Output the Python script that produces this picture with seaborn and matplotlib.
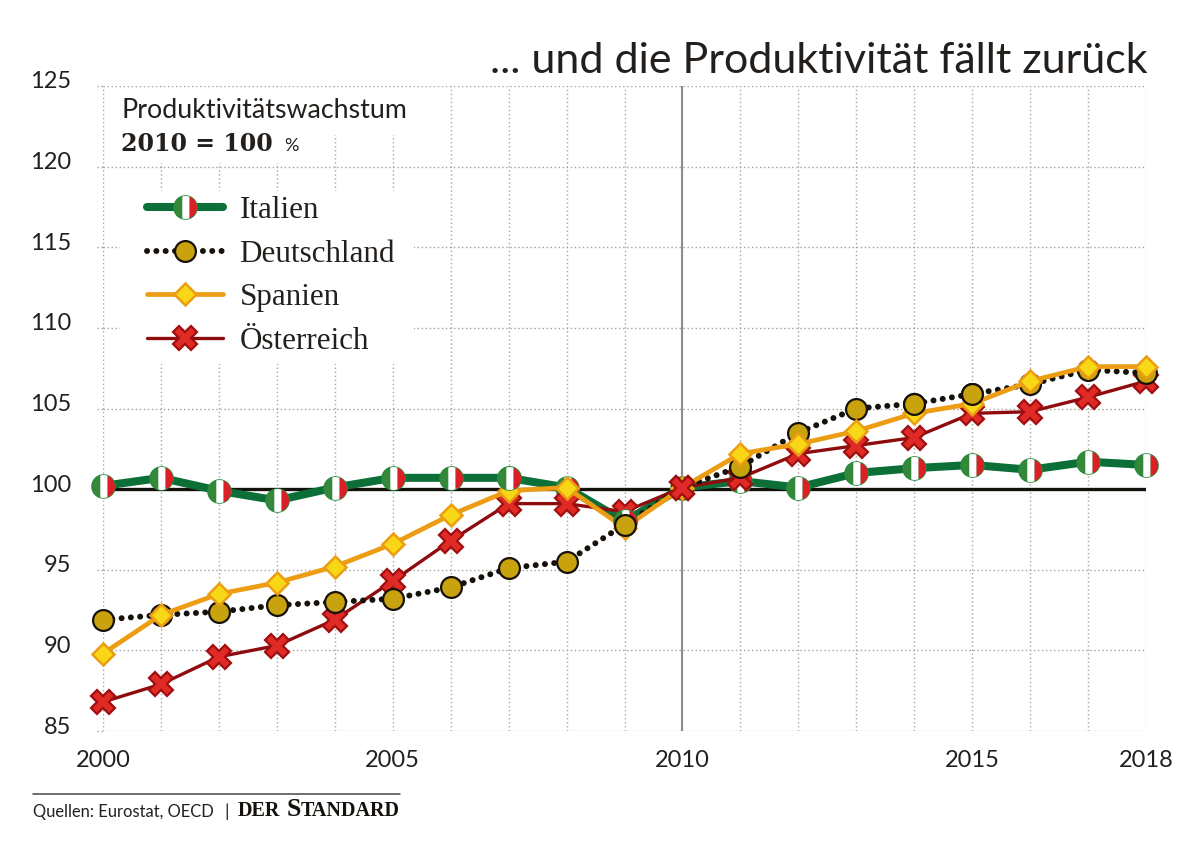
import matplotlib
matplotlib.use('Agg')
import matplotlib.pyplot as plt
from matplotlib.legend_handler import HandlerTuple
from matplotlib.patches import Rectangle
from matplotlib.path import Path
from matplotlib.transforms import ScaledTranslation
import numpy as np
import pandas as pd
import seaborn as sns

years = list(range(2000, 2019))
italien = [100.2, 100.7, 99.9, 99.3, 100.1, 100.7, 100.7, 100.7, 100.1, 98.0,
           100.1, 100.5, 100.1, 101.0, 101.3, 101.5, 101.2, 101.7, 101.5]
deutschland = [91.9, 92.2, 92.4, 92.8, 93.0, 93.2, 93.9, 95.1, 95.5, 97.8,
               100.1, 101.4, 103.5, 105.0, 105.3, 105.9, 106.5, 107.4, 107.2]
spanien = [89.8, 92.2, 93.5, 94.2, 95.2, 96.6, 98.4, 99.9, 100.1, 97.6,
           100.1, 102.2, 102.8, 103.6, 104.7, 105.3, 106.7, 107.6, 107.6]
oesterreich = [86.8, 87.9, 89.6, 90.3, 91.9, 94.3, 96.8, 99.1, 99.1, 98.6,
               100.1, 100.7, 102.2, 102.7, 103.2, 104.7, 104.8, 105.7, 106.7]
y_ticks = [85, 90, 95, 100, 105, 110, 115, 120, 125]
x_ticks = [2000, 2005, 2010, 2015, 2018]
# years where a marker sits on top of the others in the original
italien_oben = [2007, 2009]
deutschland_oben = [2009, 2014, 2015]
oesterreich_oben = [2010]

W, H = 1200, 842
SANS = 'Lato'
SERIF = 'Liberation Serif'
INK = '#231f1c'
GRID = '#a3a3a0'


def px(x, y):
    return x / W, 1 - y / H


def band(x0, x1):
    # one stripe of the flag, cut from the unit circle
    t = np.linspace(np.arccos(x1), np.arccos(x0), 24)
    top = np.column_stack([np.cos(t), np.sin(t)])
    bottom = np.column_stack([np.cos(t[::-1]), -np.sin(t[::-1])])
    pts = np.vstack([top, bottom, top[:1]])
    if x0 < 0 < x1:
        pts = np.vstack([[[0, 1]], pts[:1], pts, [[0, 1]]])
    return Path(pts, closed=True)


sns.set_theme(style='white')
plt.rcParams['font.family'] = [SANS, 'DejaVu Sans']

fig = plt.figure(figsize=(W / 100, H / 100), dpi=100, facecolor='white')
ax = fig.add_axes([103 / W, 1 - 731 / H, (1146 - 103) / W, (731 - 86) / H])
ax.set_xlim(2000, 2018)
ax.set_ylim(85, 125)
ax.set_xticks(years)
ax.set_xticklabels([str(y) if y in x_ticks else '' for y in years])
ax.set_yticks(y_ticks)
sns.despine(ax=ax, left=True, bottom=True)
ax.set_axisbelow(True)
ax.grid(True, color=GRID, lw=1.0, ls=(0, (1, 1.9)))
ax.tick_params(length=0, labelsize=17, labelcolor=INK)
ax.tick_params(axis='x', pad=14)
ax.tick_params(axis='y', pad=23)
for lab in ax.get_yticklabels():
    lab.set_transform(lab.get_transform() + ScaledTranslation(0, 6 / 100, fig.dpi_scale_trans))
for v in y_ticks:
    ax.plot([-0.006, 0], [v, v], transform=ax.get_yaxis_transform(), color=GRID,
            lw=1.0, ls=(0, (1, 1.9)), clip_on=False, zorder=0.5)

# white areas that interrupt the grid behind the texts
for x0, y0, x1, y1 in [(107, 88, 330, 163), (330, 88, 412, 135), (120, 191, 414, 364)]:
    (fx0, fy1), (fx1, fy0) = px(x0, y0), px(x1, y1)
    ax.add_patch(Rectangle((fx0, fy0), fx1 - fx0, fy1 - fy0, transform=fig.transFigure,
                           fc='white', ec='none', zorder=1, clip_on=False))

ax.axvline(2010, color='#8f8f88', lw=1.5, zorder=1.5)
ax.axhline(100, color='#14100c', lw=2.4, zorder=1.6)

df = pd.DataFrame({'Jahr': years, 'Italien': italien, 'Deutschland': deutschland,
                   'Spanien': spanien, 'Oesterreich': oesterreich})


def draw(col, data=df, **kws):
    sns.lineplot(data=data, x='Jahr', y=col, ax=ax, estimator=None, errorbar=None, clip_on=False, **kws)
    return ax.lines[-1]


WEISS = band(-0.28, 0.36)
ROT = band(0.36, 1.0)
flagge_weiss = dict(color='white', ls='none', marker=WEISS, ms=16.5, mfc='white', mec='none', mew=0)
flagge_rot = dict(color='#dc1f26', ls='none', marker=ROT, ms=16.5, mfc='#dc1f26', mec='none', mew=0)
flagge_grund = dict(color='#0b6f37', marker='o', ms=16.5, mfc='#35883a', mec='#2a8a3c', mew=1.2)
de_mark = dict(color='#17110b', marker='o', ms=15, mfc='#c9a30e', mec='#17110b', mew=1.6)
at_mark = dict(color='#8e0c0e', marker='X', ms=17, mfc='#df2a26', mec='#a00f10', mew=1.6)

it_line = draw('Italien', lw=5.8, zorder=3, solid_capstyle='round', **flagge_grund)
it_white = draw('Italien', zorder=3.1, **flagge_weiss)
it_red = draw('Italien', zorder=3.2, **flagge_rot)
at_line = draw('Oesterreich', lw=2.4, zorder=4, solid_capstyle='round', **at_mark)
de_line = draw('Deutschland', lw=4.3, ls=(0, (0.01, 1.55)), dash_capstyle='round', zorder=5, **de_mark)
es_line = draw('Spanien', color='#ec9d13', lw=3.4, marker='D', ms=11.2, mfc='#f7d716', mec='#ec9d13',
               mew=1.8, zorder=6, solid_capstyle='round')

# single markers that lie above the rest
oben = df[df['Jahr'].isin(italien_oben)]
draw('Italien', data=oben, zorder=7, **{**flagge_grund, 'ls': 'none'})
draw('Italien', data=oben, zorder=7.1, **flagge_weiss)
draw('Italien', data=oben, zorder=7.2, **flagge_rot)
draw('Deutschland', data=df[df['Jahr'].isin(deutschland_oben)], ls='none', zorder=7.5, **de_mark)
draw('Oesterreich', data=df[df['Jahr'].isin(oesterreich_oben)], ls='none', zorder=7.5, **at_mark)

leg = fig.legend([(it_line, it_white, it_red), de_line, es_line, at_line],
                 ['Italien', 'Deutschland', 'Spanien', 'Österreich'],
                 handler_map={tuple: HandlerTuple(ndivide=1, pad=0)},
                 loc='upper left', bbox_to_anchor=px(147, 196), bbox_transform=fig.transFigure,
                 frameon=False, numpoints=1, handlelength=2.45, handletextpad=0.52, borderpad=0,
                 borderaxespad=0, labelspacing=0.47, prop={'family': SERIF, 'size': 22.4}, labelcolor=INK)
leg.set_zorder(8)

fig.text(*px(1148, 73), '... und die Produktivität fällt zurück', ha='right', va='baseline', fontsize=31,
         color=INK, family=SANS)
fig.text(*px(121, 118), 'Produktivitätswachstum', ha='left', va='baseline', fontsize=19.3, color=INK, family=SANS)
fig.text(*px(121, 151), '2010 = 100', ha='left', va='baseline', fontsize=17, color=INK, family='DejaVu Serif',
         fontweight='bold')
fig.text(*px(284, 151), '%', ha='left', va='baseline', fontsize=13, color=INK, family=SANS)

fig.add_artist(plt.Line2D([33 / W, 400 / W], [1 - 794 / H] * 2, color='#4a4642', lw=1.1))
fig.text(*px(33, 817), 'Quellen: Eurostat, OECD', ha='left', va='baseline', fontsize=11.9, color=INK, family=SANS)
fig.text(*px(224, 817), '|', ha='left', va='baseline', fontsize=13, color=INK, family=SANS)
fig.text(*px(238, 816), 'DER', ha='left', va='baseline', fontsize=14.5, color='#14100c', family=SERIF, fontweight='bold')
fig.text(*px(287, 816), 'S', ha='left', va='baseline', fontsize=18.5, color='#14100c', family=SERIF, fontweight='bold')
fig.text(*px(301, 816), 'TANDARD', ha='left', va='baseline', fontsize=14.5, color='#14100c', family=SERIF, fontweight='bold')

ax.set_xlabel('')
ax.set_ylabel('')
fig.savefig('out.png', dpi=100)
